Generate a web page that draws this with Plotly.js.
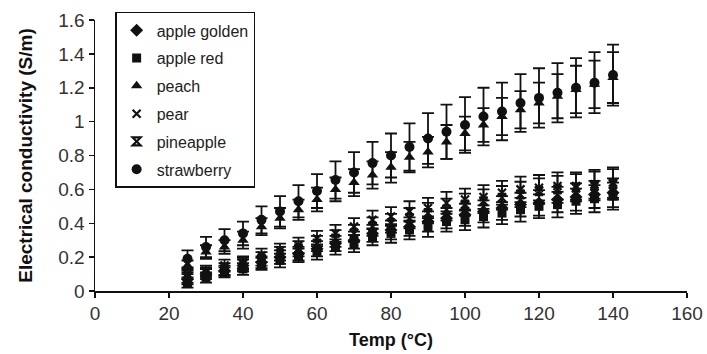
<!DOCTYPE html>
<html>
<head>
<meta charset="utf-8">
<script src="https://cdn.plot.ly/plotly-3.0.1.min.js"></script>
<style>html,body{margin:0;padding:0;background:#fff;}#chart{width:707px;height:354px;}</style>
</head>
<body>
<div id="chart"></div>
<script>
const temps = [25,30,35,40,45,50,55,60,65,70,75,80,85,90,95,100,105,110,115,120,125,130,135,140];

const appleGolden = [0.07,0.10,0.12,0.15,0.17,0.20,0.22,0.25,0.28,0.30,0.34,0.36,0.38,0.41,0.43,0.45,0.47,0.49,0.51,0.52,0.54,0.555,0.57,0.58];
const appleGoldenErr = [0.03,0.03,0.03,0.035,0.035,0.04,0.04,0.045,0.045,0.05,0.05,0.055,0.055,0.06,0.06,0.065,0.065,0.07,0.07,0.075,0.075,0.08,0.08,0.085];

const appleRed = [0.05,0.08,0.11,0.13,0.16,0.18,0.21,0.23,0.26,0.28,0.32,0.34,0.36,0.38,0.41,0.42,0.44,0.46,0.48,0.50,0.51,0.53,0.545,0.56];
const appleRedErr = [0.03,0.03,0.03,0.035,0.035,0.04,0.04,0.045,0.045,0.05,0.05,0.055,0.055,0.06,0.06,0.06,0.065,0.065,0.07,0.07,0.075,0.075,0.08,0.08];

const peach = [0.15,0.23,0.26,0.30,0.38,0.43,0.48,0.54,0.60,0.64,0.685,0.73,0.79,0.82,0.88,0.93,0.98,1.03,1.07,1.11,1.15,1.19,1.22,1.26];
const peachErr = [0.03,0.04,0.04,0.05,0.05,0.06,0.06,0.07,0.07,0.08,0.08,0.09,0.09,0.09,0.10,0.10,0.10,0.11,0.11,0.12,0.13,0.14,0.14,0.15];

const pear = [0.10,0.12,0.15,0.17,0.21,0.24,0.27,0.31,0.34,0.38,0.42,0.44,0.47,0.49,0.52,0.54,0.555,0.58,0.60,0.61,0.62,0.62,0.63,0.64];
const pearErr = [0.03,0.03,0.035,0.035,0.04,0.04,0.045,0.045,0.05,0.05,0.055,0.055,0.06,0.06,0.065,0.065,0.07,0.07,0.075,0.075,0.08,0.08,0.085,0.09];

const pineapple = [0.08,0.11,0.13,0.16,0.19,0.22,0.25,0.28,0.31,0.34,0.38,0.40,0.43,0.46,0.48,0.51,0.53,0.55,0.57,0.59,0.60,0.61,0.62,0.63];
const pineappleErr = [0.03,0.03,0.035,0.035,0.04,0.04,0.045,0.045,0.05,0.05,0.055,0.055,0.06,0.06,0.065,0.065,0.07,0.07,0.075,0.075,0.08,0.08,0.085,0.09];

const strawberry = [0.19,0.26,0.30,0.34,0.42,0.47,0.53,0.59,0.655,0.70,0.755,0.80,0.85,0.90,0.94,0.98,1.03,1.06,1.11,1.14,1.17,1.20,1.23,1.275];
const strawberryErr = [0.05,0.06,0.065,0.07,0.08,0.09,0.095,0.10,0.11,0.12,0.125,0.13,0.14,0.15,0.16,0.165,0.17,0.17,0.17,0.175,0.175,0.175,0.18,0.18];

const seriesNames = ['apple golden','apple red','peach','pear','pineapple','strawberry'];
const seriesValues = [appleGolden, appleRed, peach, pear, pineapple, strawberry];
const seriesErrors = [appleGoldenErr, appleRedErr, peachErr, pearErr, pineappleErr, strawberryErr];
const symbols = ['diamond','square','triangle-up','x-thin-open','hourglass-open','circle'];
const sizes = [10,9,10,8,8,10];

const traces = seriesNames.map((name, i) => ({
  type: 'scatter',
  mode: 'markers',
  name: name,
  legendgroup: name,
  x: temps,
  y: seriesValues[i],
  error_y: {type: 'data', array: seriesErrors[i], visible: true, color: '#111', thickness: 1.8, width: 6},
  marker: {symbol: symbols[i], size: sizes[i], color: '#111', line: {color: '#111', width: (symbols[i].endsWith('open') ? 2.2 : 0)}}
}));

const layout = {
  width: 707, height: 354,
  margin: {l: 95, r: 20, t: 20, b: 63},
  paper_bgcolor: '#fff', plot_bgcolor: '#fff',
  font: {family: 'Liberation Sans, Arial, sans-serif', color: '#222'},
  showlegend: true,
  legend: {
    x: 0.034, y: 1.03, xanchor: 'left', yanchor: 'top',
    bordercolor: '#111', borderwidth: 1.5, bgcolor: '#fff',
    font: {size: 16, color: '#222'}, itemwidth: 30,
    traceorder: 'grouped', tracegroupgap: 4
  },
  xaxis: {
    range: [0, 160], tickvals: [0,20,40,60,80,100,120,140,160],
    ticks: 'outside', ticklen: 5, tickcolor: '#111', tickwidth: 1.5,
    showline: true, linecolor: '#111', linewidth: 1.5, showgrid: false, zeroline: false,
    tickfont: {size: 19, color: '#333'},
    title: {text: '<b>Temp (°C)</b>', font: {size: 18, color: '#111'}, standoff: 10}
  },
  yaxis: {
    range: [0, 1.6], tickvals: [0,0.2,0.4,0.6,0.8,1,1.2,1.4,1.6],
    ticktext: ['0','0.2','0.4','0.6','0.8','1','1.2','1.4','1.6'],
    ticks: 'outside', ticklen: 5, tickcolor: '#111', tickwidth: 1.5,
    showline: true, linecolor: '#111', linewidth: 1.5, showgrid: false, zeroline: false,
    tickfont: {size: 19, color: '#333'},
    title: {text: '<b>Electrical conductivity (S/m)</b>', font: {size: 19, color: '#111'}, standoff: 20}
  }
};

Plotly.newPlot('chart', traces, layout, {staticPlot: true, displayModeBar: false});
</script>
</body>
</html>
